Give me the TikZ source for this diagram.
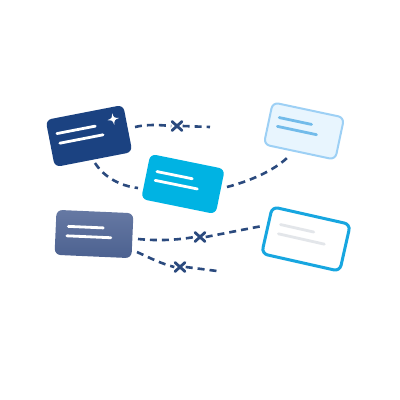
\documentclass[tikz,border=0pt]{standalone}
\usetikzlibrary{calc}
\definecolor{navy}{HTML}{1B4281}
\definecolor{cyanc}{HTML}{00B3E3}
\definecolor{lightfill}{HTML}{E8F5FE}
\definecolor{lightedge}{HTML}{9DD0F5}
\definecolor{lightline}{HTML}{72BBEA}
\definecolor{slateA}{HTML}{6679A3}
\definecolor{slateB}{HTML}{4C6190}
\definecolor{edgecyan}{HTML}{17A6E0}
\definecolor{grayline}{HTML}{E3E6EA}
\definecolor{dashc}{HTML}{2B4A7E}
\tikzset{
  card/.style={rectangle, rounded corners=6pt, inner sep=0pt, minimum width=78pt, minimum height=47pt},
  cardline/.style={line width=2.8pt, line cap=round},
  conn/.style={draw=dashc, line width=2.6pt, dash pattern=on 7pt off 5pt},
  xmark/.style={rectangle, inner sep=0pt, minimum width=11pt, minimum height=10pt},
  xstroke/.style={draw=dashc, line width=2.8pt, line cap=round}
}
\begin{document}
\begin{tikzpicture}[x=1pt,y=-1pt]
\useasboundingbox[fill=white] (0,0) rectangle (400,400);

% connectors (drawn first)
\coordinate (s1) at (135,127);
\coordinate (e1) at (210,127);
\coordinate (s2) at (95,163);
\coordinate (e2) at (138,188);
\coordinate (s3) at (227,187);
\coordinate (e3) at (287,158);
\coordinate (s4) at (138,239);
\coordinate (e4) at (262,226);
\coordinate (s5) at (137,252);
\coordinate (e5) at (217,271);
\node[xmark] (x1) at (177,126) {};
\node[xmark] (x2) at (200,237) {};
\node[xmark] (x3) at (180,267) {};

\draw[conn] (s1) .. controls (148,124) and (160,125) .. (x1.west);
\draw[conn] (x1.east) -- (e1);
\draw[conn] (s2) .. controls (104,177) and (120,186) .. (e2);
\draw[conn] (s3) .. controls (250,181) and (273,171) .. (e3);
\draw[conn] (s4) .. controls (158,241) and (178,240) .. (x2.west);
\draw[conn] (x2.east) -- (e4);
\draw[conn] (s5) .. controls (150,258) and (162,264) .. (x3.west);
\draw[conn] (x3.east) -- (e5);

\foreach \x in {x1,x2,x3}{
  \draw[xstroke] ($(\x.center)+(-5,-4.5)$) -- ($(\x.center)+(5,4.5)$);
  \draw[xstroke] ($(\x.center)+(5,-4.5)$) -- ($(\x.center)+(-5,4.5)$);
}

% card 1 navy
\node[card, fill=navy, rotate=11, minimum width=79pt, minimum height=48pt] (c1) at (89,136) {};
\begin{scope}[shift={(c1.center)}, rotate=11]
  \draw[cardline, white] (-31,-8.5) -- (8,-8.5);
  \draw[cardline, white] (-30,1.5) -- (14,1.5);
  \fill[white] (27,-18) .. controls (28,-13) .. (33,-12)
     .. controls (28,-11) .. (27,-6)
     .. controls (26,-11) .. (21,-12)
     .. controls (26,-13) .. cycle;
\end{scope}

% card 2 cyan
\node[card, fill=cyanc, rotate=-11.5, minimum width=76pt, minimum height=46pt] (c2) at (183,184) {};
\begin{scope}[shift={(c2.center)}, rotate=-11.5]
  \draw[cardline, white] (-28,-7) -- (8,-7);
  \draw[cardline, white] (-28,2) -- (15,2);
\end{scope}

% card 3 light
\node[card, fill=lightfill, draw=lightedge, line width=2pt, rotate=-12, minimum width=73pt, minimum height=43pt] (c3) at (304,131) {};
\begin{scope}[shift={(c3.center)}, rotate=-12]
  \draw[cardline, lightline] (-27,-8) -- (6,-8);
  \draw[cardline, lightline] (-27,1) -- (13,1);
\end{scope}

% card 4 slate
\node[card, left color=slateA, right color=slateB, shading angle=0, rotate=-2.5, minimum width=77pt, minimum height=45pt] (c4) at (94,234) {};
\begin{scope}[shift={(c4.center)}, rotate=-2.5]
  \draw[cardline, white] (-26,-6.5) -- (9,-6.5);
  \draw[cardline, white] (-27,3) -- (17,3);
\end{scope}

% card 5 white with cyan border
\node[card, fill=white, draw=edgecyan, line width=3pt, rotate=-12.7, minimum width=80pt, minimum height=48pt] (c5) at (306,239) {};
\begin{scope}[shift={(c5.center)}, rotate=-12.7]
  \draw[cardline, grayline] (-28,-8.5) -- (6,-8.5);
  \draw[cardline, grayline] (-28,1) -- (19,1);
\end{scope}
\end{tikzpicture}
\end{document}
